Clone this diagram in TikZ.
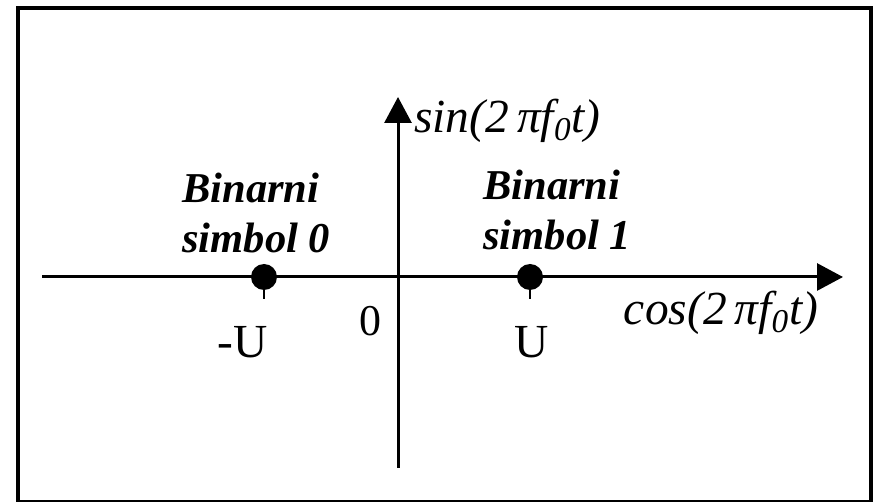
\documentclass[tikz,border=0pt]{standalone}
\usepackage{fontspec}
\setmainfont{Liberation Serif}
\usetikzlibrary{arrows.meta}
\tikzset{
  >={Triangle[length=0.52cm, width=0.54cm]},
  axis/.style={->, line width=0.06cm},
  frame/.style={draw, line width=0.08cm},
  symbolpt/.style={circle, fill=black, inner sep=0pt, minimum size=0.52cm},
  tick/.style={line width=0.05cm},
  symlabel/.style={font=\fontsize{24.2}{28.5}\selectfont\bfseries\itshape,
    align=left, inner sep=0pt},
  funlabel/.style={font=\fontsize{27}{30}\selectfont\itshape, inner sep=0pt},
  vallabel/.style={font=\fontsize{27}{30}\selectfont, inner sep=0pt, anchor=base}
}

\begin{document}
\begin{tikzpicture}[x=0.02cm, y=-0.02cm]
\useasboundingbox (0,0) rectangle (875,502);
\node[frame, minimum width=17.06cm, minimum height=9.88cm, anchor=north west]
  (box) at (16,6) {};

% axes
\coordinate (xl) at (42,277);
\coordinate (xr) at (843,277);
\coordinate (yb) at (398,468);
\coordinate (yt) at (398,97);
\draw[axis] (xl) -- (xr);
\draw[axis] (yb) -- (yt);

% signal points
\node[symbolpt] (s0) at (264,277) {};
\node[symbolpt] (s1) at (530,277) {};
\coordinate (t0) at (264,299);
\coordinate (t1) at (530,299);
\draw[tick] (s0.center) -- (t0);
\draw[tick] (s1.center) -- (t1);

% labels
\node[funlabel, anchor=base west] (sinl) at (414,133) {sin(2\,πf\textsubscript{0}t)};
\node[funlabel, anchor=base] (cosl) at (721,325) {cos(2\,πf\textsubscript{0}t)};
\node[symlabel, anchor=base west] (b0) at (182,253) {Binarni\\simbol 0};
\node[symlabel, anchor=base west] (b1) at (483,250) {Binarni\\simbol 1};
\node[vallabel] (mu) at (243,358) {-U};
\node[vallabel] (pu) at (532,358) {U};
\node[vallabel, font=\fontsize{25}{30}\selectfont] (zero) at (370,336) {0};
\end{tikzpicture}
\end{document}
